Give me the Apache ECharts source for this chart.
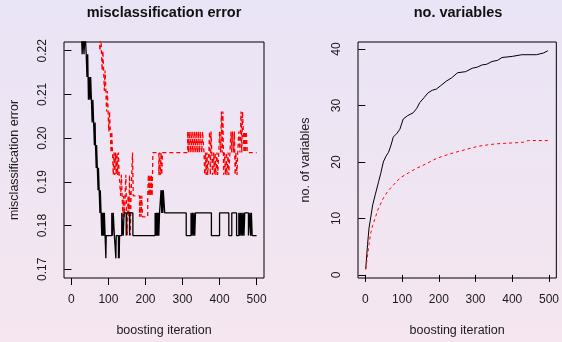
<!DOCTYPE html>
<html>
<head>
<meta charset="utf-8">
<script src="https://cdn.jsdelivr.net/npm/echarts@6/dist/echarts.min.js"></script>
<style>
  html, body { margin: 0; padding: 0; }
  #chart { width: 562px; height: 342px; }
</style>
</head>
<body>
<div id="chart"></div>
<script>
// misclassification error, black solid line (iteration where the value changes, new value)
const errBlackIter = [1, 22, 27, 29, 31, 34, 37, 40, 42, 44, 46, 48, 50, 52, 54, 56, 58, 60, 62, 64,
  65, 67, 68, 70, 72, 73, 75, 77, 78, 80, 82, 83, 85, 86, 88, 89, 91, 93, 94, 109,
  111, 113, 116, 120, 121, 127, 128, 129, 130, 136, 140, 142, 148, 149, 157, 158, 166, 226, 227, 229,
  230, 232, 233, 235, 236, 238, 242, 244, 245, 247, 248, 252, 310, 323, 325, 327, 329, 331, 333, 335,
  378, 400, 425, 433, 446, 452, 454, 456, 458, 460, 462, 464, 466, 468, 478, 482, 484, 486, 488, 500];
const errBlack = [0.2400, 0.2296, 0.2244, 0.2192, 0.2244, 0.2192, 0.2244, 0.2192, 0.2140, 0.2192, 0.2088, 0.2140, 0.2088, 0.2140, 0.2088, 0.2036, 0.2088, 0.2036, 0.1984, 0.2036,
  0.1984, 0.1932, 0.1984, 0.1932, 0.1881, 0.1932, 0.1881, 0.1829, 0.1881, 0.1829, 0.1777, 0.1829, 0.1777, 0.1829, 0.1777, 0.1829, 0.1777, 0.1725, 0.1777, 0.1829,
  0.1777, 0.1829, 0.1777, 0.1725, 0.1777, 0.1725, 0.1777, 0.1725, 0.1777, 0.1829, 0.1777, 0.1829, 0.1777, 0.1829, 0.1777, 0.1829, 0.1777, 0.1829, 0.1777, 0.1829,
  0.1777, 0.1829, 0.1777, 0.1829, 0.1777, 0.1829, 0.1881, 0.1829, 0.1881, 0.1829, 0.1881, 0.1829, 0.1777, 0.1829, 0.1777, 0.1829, 0.1777, 0.1829, 0.1777, 0.1829,
  0.1777, 0.1829, 0.1777, 0.1829, 0.1777, 0.1829, 0.1777, 0.1829, 0.1777, 0.1829, 0.1777, 0.1829, 0.1777, 0.1829, 0.1777, 0.1829, 0.1777, 0.1829, 0.1777, 0.1777];

// misclassification error, red dashed line
const errRedIter = [1, 74, 77, 79, 81, 83, 85, 87, 89, 91, 93, 95, 97, 99, 101, 103, 105, 107, 109, 111,
  113, 115, 117, 119, 121, 123, 125, 127, 129, 133, 135, 137, 139, 141, 143, 145, 147, 149, 151, 153,
  155, 157, 159, 161, 163, 165, 167, 184, 186, 188, 190, 192, 206, 208, 210, 212, 214, 216, 218, 220,
  236, 238, 240, 242, 244, 246, 314, 316, 318, 321, 323, 326, 328, 331, 333, 336, 338, 341, 343, 346,
  348, 352, 354, 358, 360, 362, 364, 366, 368, 371, 373, 375, 377, 379, 381, 384, 386, 388, 390, 393,
  395, 398, 400, 403, 405, 407, 409, 411, 413, 416, 418, 420, 423, 425, 428, 431, 433, 435, 438, 440,
  442, 444, 447, 449, 452, 455, 458, 460, 462, 464, 466, 468, 470, 472, 475, 500];
const errRed = [0.2600, 0.2250, 0.2200, 0.2250, 0.2200, 0.2155, 0.2200, 0.2155, 0.2108, 0.2155, 0.2108, 0.2061, 0.2108, 0.2061, 0.2015, 0.2061, 0.2015, 0.1967, 0.2015, 0.1967,
  0.1916, 0.1967, 0.1916, 0.1967, 0.1916, 0.1967, 0.1916, 0.1967, 0.1916, 0.1868, 0.1916, 0.1868, 0.1820, 0.1868, 0.1820, 0.1868, 0.1916, 0.1820, 0.1778, 0.1868,
  0.1820, 0.1916, 0.1778, 0.1868, 0.1916, 0.1967, 0.1868, 0.1820, 0.1868, 0.1820, 0.1868, 0.1820, 0.1868, 0.1916, 0.1868, 0.1916, 0.1868, 0.1916, 0.1868, 0.1967,
  0.1916, 0.1967, 0.1916, 0.1967, 0.1916, 0.1967, 0.2015, 0.1967, 0.2015, 0.1967, 0.2015, 0.1967, 0.2015, 0.1967, 0.2015, 0.1967, 0.2015, 0.1967, 0.2015, 0.1967,
  0.2015, 0.1967, 0.2015, 0.1967, 0.1916, 0.1967, 0.1916, 0.1967, 0.1916, 0.1967, 0.2015, 0.1916, 0.2015, 0.1967, 0.1916, 0.1967, 0.1916, 0.1967, 0.1916, 0.1967,
  0.1916, 0.1967, 0.2015, 0.1967, 0.2061, 0.1967, 0.2061, 0.1916, 0.1967, 0.1916, 0.1967, 0.1916, 0.1967, 0.1916, 0.1967, 0.2015, 0.1967, 0.2015, 0.1967, 0.2015,
  0.1916, 0.1967, 0.1916, 0.1967, 0.2015, 0.1967, 0.2061, 0.1967, 0.2061, 0.2015, 0.1967, 0.2015, 0.1967, 0.2015, 0.1967, 0.1967];

// no. of variables
const varBlackIter = [1, 6, 10, 13, 20, 27, 36, 42, 49, 56, 63, 70, 76, 85, 94, 103, 115, 130, 140, 148,
  160, 170, 182, 193, 205, 220, 235, 251, 273, 291, 305, 318, 330, 345, 360, 372, 400, 426, 466, 485, 497];
const varBlack = [1, 5.4, 8.3, 9.5, 12.4, 14.2, 16.5, 18, 20, 21, 21.7, 23, 24.4, 25, 25.8, 27.6, 28.2, 28.7, 29.5, 30.5,
  31.4, 32.2, 32.7, 32.9, 33.5, 34.3, 34.9, 35.8, 36, 36.6, 36.8, 37.2, 37.3, 37.8, 38.0, 38.5, 38.7, 39.0, 39.0, 39.3, 39.7];
const varRedIter = [1, 5, 10, 15, 20, 27, 35, 49, 62, 76, 95, 121, 140, 157, 175, 193, 210, 229, 250, 273,
  290, 309, 330, 354, 380, 408, 430, 444, 470, 497];
const varRed = [1, 3, 5.4, 7.5, 8.8, 10.1, 11.7, 13.6, 14.9, 15.9, 17.2, 18.2, 18.9, 19.4, 20.0, 20.6, 21.0, 21.4, 21.8, 22.2,
  22.5, 22.8, 23.0, 23.2, 23.3, 23.4, 23.5, 23.8, 23.8, 23.8];

const xTicks = [0, 100, 200, 300, 400, 500];
const errTicks = [0.17, 0.18, 0.19, 0.20, 0.21, 0.22];
const varTicks = [0, 10, 20, 30, 40];

const FONT = "'Liberation Sans', Arial, Helvetica, sans-serif";
const TXT = "#1a1a1a";

function pairs(xs, ys) {
  return xs.map((x, i) => [x, ys[i]]);
}

function xAxisFor(gridIndex) {
  return {
    type: "value",
    gridIndex: gridIndex,
    min: -20,
    max: 520,
    name: "boosting iteration",
    nameLocation: "middle",
    nameGap: 46,
    nameTextStyle: { color: TXT, fontSize: 12.5, fontFamily: FONT },
    axisLine: { show: false },
    axisTick: { show: true, length: 7, customValues: xTicks, lineStyle: { color: "#000" } },
    axisLabel: { customValues: xTicks, margin: 16, color: TXT, fontSize: 12, fontFamily: FONT },
    splitLine: { show: false },
  };
}

function yAxisFor(gridIndex, name, min, max, ticks, fmt, gap) {
  return {
    type: "value",
    gridIndex: gridIndex,
    min: min,
    max: max,
    name: name,
    nameLocation: "middle",
    nameGap: gap,
    nameTextStyle: { color: TXT, fontSize: 12.5, fontFamily: FONT },
    axisLine: { show: false },
    axisTick: { show: true, length: 7, customValues: ticks, lineStyle: { color: "#000" } },
    axisLabel: {
      customValues: ticks,
      rotate: 90,
      margin: 15,
      color: TXT,
      fontSize: 12,
      fontFamily: FONT,
      formatter: fmt,
    },
    splitLine: { show: false },
  };
}

const chart = echarts.init(document.getElementById("chart"), null, { renderer: "canvas" });

const option = {
  animation: false,
  backgroundColor: {
    type: "linear",
    x: 0, y: 0, x2: 0, y2: 1,
    colorStops: [
      { offset: 0, color: "#e9e4f6" },
      { offset: 1, color: "#f5e6ef" },
    ],
  },
  graphic: [
    {
      type: "text", x: 164, y: 13,
      style: { text: "misclassification error", textAlign: "center", textVerticalAlign: "middle",
        font: "bold 14.5px " + FONT, fill: "#111" },
    },
    {
      type: "text", x: 458, y: 13,
      style: { text: "no. variables", textAlign: "center", textVerticalAlign: "middle",
        font: "bold 14.5px " + FONT, fill: "#111" },
    },
  ],
  grid: [
    { left: 64, top: 42, width: 200, height: 239, show: true, borderColor: "#000", borderWidth: 1, backgroundColor: "transparent" },
    { left: 358, top: 42, width: 200, height: 239, show: true, borderColor: "#000", borderWidth: 1, backgroundColor: "transparent" },
  ],
  xAxis: [xAxisFor(0), xAxisFor(1)],
  yAxis: [
    yAxisFor(0, "misclassification error", 0.168, 0.222, errTicks, (v) => v.toFixed(2), 43),
    yAxisFor(1, "no. of variables", -0.55, 41.25, varTicks, (v) => String(Math.round(v)), 46),
  ],
  series: [
    {
      type: "line", xAxisIndex: 0, yAxisIndex: 0, step: "end", showSymbol: false, clip: true,
      data: pairs(errRedIter, errRed),
      lineStyle: { color: "#ff0000", width: 1.3, type: [4, 3] },
    },
    {
      type: "line", xAxisIndex: 0, yAxisIndex: 0, step: "end", showSymbol: false, clip: true,
      data: pairs(errBlackIter, errBlack),
      lineStyle: { color: "#000", width: 1.3 },
    },
    {
      type: "line", xAxisIndex: 1, yAxisIndex: 1, showSymbol: false, clip: true,
      data: pairs(varBlackIter, varBlack),
      lineStyle: { color: "#000", width: 1 },
    },
    {
      type: "line", xAxisIndex: 1, yAxisIndex: 1, showSymbol: false, clip: true,
      data: pairs(varRedIter, varRed),
      lineStyle: { color: "#ff0000", width: 1, type: [3, 3] },
    },
  ],
};

chart.setOption(option);
</script>
</body>
</html>
